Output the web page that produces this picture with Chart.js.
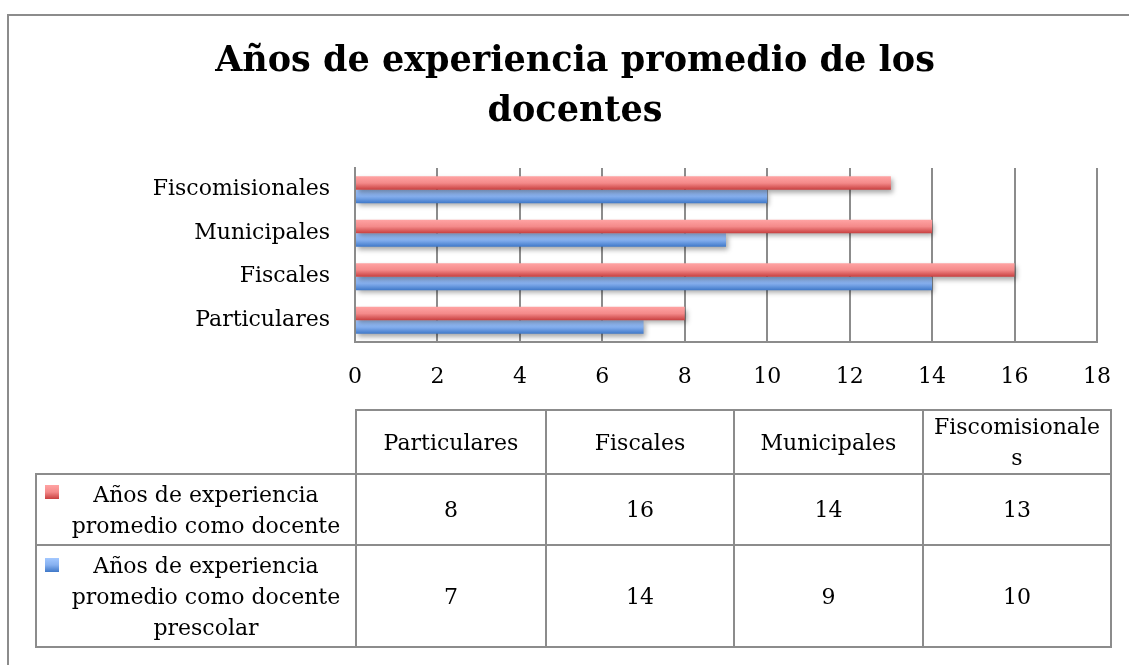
<!DOCTYPE html>
<html>
<head>
<meta charset="utf-8">
<script src="https://cdn.jsdelivr.net/npm/chart.js@4"></script>
<style>
  body { margin: 0; background: #fff; }
  #wrap { position: relative; width: 1129px; height: 665px; overflow: hidden; }
  #frame { position: absolute; left: 7px; top: 14px; width: 1300px; height: 800px;
           border-top: 2px solid #8c8c8c; border-left: 2px solid #8c8c8c; }
  #c { position: absolute; left: 0; top: 0; }
  table { position: absolute; left: 35px; top: 409px; border-collapse: collapse; table-layout: fixed;
          font-family: "DejaVu Serif", serif; font-size: 22px; line-height: 31px; color: #000; }
  td { border: 2px solid #8c8c8c; text-align: center; vertical-align: middle; padding: 0 8px;
       overflow-wrap: anywhere; }
  td.blank { border-top: none; border-left: none; }
  td.lab { position: relative; padding: 0 6px 0 26px; overflow-wrap: normal; }
  .sw { position: absolute; left: 8px; width: 14px; height: 14px; }
</style>
</head>
<body>
<div id="wrap">
  <div id="frame"></div>
  <canvas id="c" width="1129" height="665"></canvas>
  <table id="tbl"></table>
</div>
<script>
var categories = ['Particulares', 'Fiscales', 'Municipales', 'Fiscomisionales'];
var seriesNames = ['Años de experiencia promedio como docente', 'Años de experiencia promedio como docente prescolar'];
var docente = [8, 16, 14, 13];
var prescolar = [7, 14, 9, 10];
var xTicks = [0, 2, 4, 6, 8, 10, 12, 14, 16, 18];

var gradStops = [
  ['#ffa3a3', '#f48a8a', '#c83f3f'],
  ['#a3c8ff', '#86b0f0', '#3f78c8']
];

// gradient + soft shadow on every bar, from the bar geometry chart.js computed
var barLook = {
  id: 'barLook',
  beforeDatasetsDraw: function(chart) {
    var ctx = chart.ctx;
    chart.data.datasets.forEach(function(ds, i) {
      var meta = chart.getDatasetMeta(i);
      meta.data.forEach(function(el) {
        var p = el.getProps(['y', 'height'], true);
        var g = ctx.createLinearGradient(0, p.y - p.height / 2, 0, p.y + p.height / 2);
        g.addColorStop(0, gradStops[i][0]);
        g.addColorStop(0.5, gradStops[i][1]);
        g.addColorStop(1, gradStops[i][2]);
        el.options = Object.assign({}, el.options, { backgroundColor: g });
      });
    });
    ctx.save();
    ctx.shadowColor = 'rgba(0,0,0,0.35)';
    ctx.shadowBlur = 5;
    ctx.shadowOffsetX = 2;
    ctx.shadowOffsetY = 3;
  },
  afterDatasetsDraw: function(chart) {
    chart.ctx.restore();
  }
};

var serif = 'DejaVu Serif';

new Chart(document.getElementById('c'), {
  type: 'bar',
  data: {
    labels: categories,
    datasets: [
      { label: seriesNames[0], data: docente, backgroundColor: '#e86a6a', borderWidth: 0 },
      { label: seriesNames[1], data: prescolar, backgroundColor: '#6a9be8', borderWidth: 0 }
    ]
  },
  options: {
    indexAxis: 'y',
    responsive: false,
    animation: false,
    categoryPercentage: 0.62,
    barPercentage: 1.0,
    layout: { padding: { left: 53, right: 32, top: 0, bottom: 263 } },
    plugins: {
      legend: { display: false },
      tooltip: { enabled: false },
      title: {
        display: true,
        text: ['Años de experiencia promedio de los', 'docentes'],
        color: '#000',
        font: { family: serif, size: 35, weight: 'bold', lineHeight: '50px' },
        padding: { top: 37, bottom: 31 }
      }
    },
    scales: {
      x: {
        min: 0, max: 18,
        afterBuildTicks: function(s) { s.ticks = xTicks.map(function(v) { return { value: v }; }); },
        afterFit: function(s) { s.height = 60; s.paddingLeft = 0; s.paddingRight = 0; },
        grid: { color: '#8c8c8c', lineWidth: 2, drawTicks: false },
        border: { color: '#8c8c8c', width: 2 },
        ticks: { color: '#000', padding: 22, font: { family: serif, size: 22 } }
      },
      y: {
        reverse: true,
        afterFit: function(s) { s.width = 302; },
        grid: { display: false, drawTicks: false },
        border: { color: '#8c8c8c', width: 2 },
        ticks: { color: '#000', padding: 25, font: { family: serif, size: 22 } }
      }
    }
  },
  plugins: [barLook]
});

// data table under the chart
var tbl = document.getElementById('tbl');
var colW = [320, 190, 188, 189, 188];
var rowH = [63, 71, 102];
var html = '<colgroup>';
colW.forEach(function(w) { html += '<col style="width:' + w + 'px">'; });
html += '</colgroup>';
html += '<tr style="height:' + rowH[0] + 'px"><td class="blank"></td>';
categories.forEach(function(c) { html += '<td>' + c + '</td>'; });
html += '</tr>';
[docente, prescolar].forEach(function(vals, i) {
  var top = i === 0 ? 10 : 12;
  html += '<tr style="height:' + rowH[i + 1] + 'px"><td class="lab">' +
    '<span class="sw" style="top:' + top + 'px;background:linear-gradient(' + gradStops[i].join(',') + ')"></span>' +
    seriesNames[i] + '</td>';
  vals.forEach(function(v) { html += '<td>' + v + '</td>'; });
  html += '</tr>';
});
tbl.innerHTML = html;
tbl.style.width = colW.reduce(function(a, b) { return a + b; }, 0) + 'px';
</script>
</body>
</html>
